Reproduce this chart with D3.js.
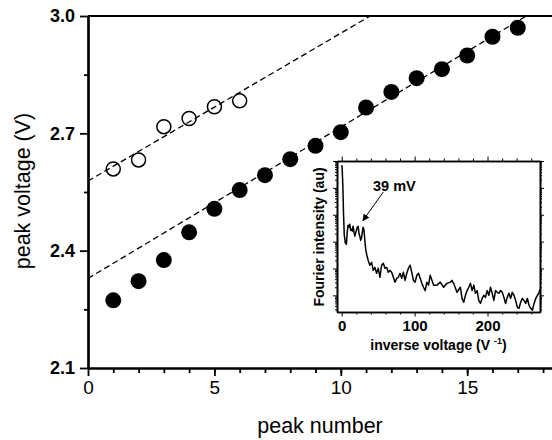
<!DOCTYPE html>
<html lang="en">
<head>
<meta charset="UTF-8">
<title>peak voltage</title>
<style type="text/css">
  * {
    margin: 0;
    padding: 0;
  }
  body { background: #fff; }
  svg { display: block; font-family: 'Liberation Sans', Arial, sans-serif; }
</style>
</head>
<body>
<div id="chart-area"></div>
<script src="https://cdn.jsdelivr.net/npm/d3@7"></script>
<script type="text/javascript">

  // main plot data
  const peakNumber = [1, 2, 3, 4, 5, 6, 7, 8, 9, 10, 11, 12, 13, 14, 15, 16, 17]
  const peakVoltage = [2.273, 2.322, 2.376, 2.447, 2.507, 2.555, 2.593, 2.634, 2.668, 2.703,
    2.766, 2.806, 2.841, 2.864, 2.899, 2.947, 2.970]
  const openPeak = [1, 2, 3, 4, 5, 6]
  const openVoltage = [2.609, 2.632, 2.717, 2.738, 2.768, 2.783]
  // linear fits: [upper (open), lower (filled)]
  const fitIntercept = [2.578, 2.329]
  const fitSlope = [0.0378, 0.0387]
  const xTicks = [0, 5, 10, 15]
  const yTicks = [2.1, 2.4, 2.7, 3.0]

  // inset data
  const invVoltage = [0, 0.5, 1.5, 2.5, 3.5, 5, 6.4, 7.5, 8.7, 10, 11, 12.2, 13.3, 14.5, 15.6, 16.8,
    17.9, 19, 20.2, 21.3, 22.5, 23.6, 24.8, 26, 27.1, 28.2, 29.4, 30.5, 31.7, 33, 34.5, 36.3,
    38.6, 41, 43.2, 45.5, 47.8, 50.1, 52.4, 54.7, 57, 59.3, 61.6, 63.9, 66.2, 68.5, 70.8, 73.1,
    75.4, 77.7, 80, 82.3, 84.6, 86.9, 89.2, 91.5, 93.8, 96.1, 98.4, 100.7, 103, 105.3, 107.6,
    109.9, 112.2, 114.5, 116.8, 119.1, 121.4, 126, 130.6, 135.2, 139.8, 144.4, 149, 151.2, 153.5,
    158.1, 162.8, 165, 167.4, 169.7, 172, 174.3, 176.6, 178.9, 181.2, 183.4, 185.7, 188, 190.3,
    192.6, 194.9, 197.2, 199.5, 201.8, 204.1, 206.4, 208.7, 211, 213.3, 215.6, 217.9, 220.2,
    222.5, 224.8, 227.1, 229.4, 231.7, 234, 236.3, 238.6, 240.9, 243.2, 245.5, 247.8, 250.1,
    252.4, 254.7, 257, 259.3, 261.6, 263.9, 266.2, 268.5, 270.8, 272]
  const fourierIntensity = [70800, 60000, 12600, 970, 173, 87, 80, 224, 410, 345, 445, 267, 290,
    245, 375, 224, 159, 206, 267, 345, 375, 206, 159, 112, 134, 224, 345, 267, 112, 48, 31, 20,
    13.2, 17, 8.5, 11, 6.6, 10.2, 4.7, 13.2, 15.6, 10.2, 11, 7.2, 8.5, 7.2, 4.7, 3.1,
    4.3, 4.7, 6.6, 4.3, 7.2, 3.6, 6.6, 10.2, 13.2, 7.2, 3.6, 3.1, 5.6, 6.6, 4.3,
    2.8, 2.0, 1.5, 3.1, 2.4, 5.6, 2.4, 2.4, 3.1, 2.0, 2.8, 3.1, 3.6, 2.8,
    1.3, 2.0, 0.77, 0.55, 1.0, 1.5, 2.0, 2.8, 1.5, 2.4, 1.19, 1.5, 0.65, 0.50,
    0.77, 1.0, 0.84, 1.5, 1.0, 2.0, 1.19, 0.65, 1.5, 1.3, 1.19, 1.5, 1.3,
    0.84, 0.50, 0.84, 1.19, 0.77, 1.3, 1.0, 0.65, 0.36, 0.33, 0.55, 0.77, 0.65,
    0.50, 0.77, 0.42, 0.33, 0.28, 0.50, 0.77, 1.0, 1.3, 1.7]
  const insetXTicks = [0, 100, 200]
  const peakLabel = '39 mV'

  const W = 552
  const H = 440

  const svg = d3.select('#chart-area').append('svg')
      .attr('width', W)
      .attr('height', H)

  const x = d3.scaleLinear().domain([0, 18.5]).range([88, 88 + 18.5 * 25.28])
  const y = d3.scaleLinear().domain([2.1, 3.0]).range([368, 16])

  svg.append('clipPath').attr('id', 'plot-clip')
    .append('rect')
      .attr('x', x(0)).attr('y', y(3.0))
      .attr('width', W - x(0)).attr('height', y(2.1) - y(3.0))

  // fit lines
  const lineG = svg.append('g').attr('clip-path', 'url(#plot-clip)')
  fitIntercept.forEach((b, i) => {
    lineG.append('line')
        .attr('x1', x(0)).attr('y1', y(b))
        .attr('x2', x(18.5)).attr('y2', y(b + fitSlope[i] * 18.5))
        .attr('stroke', '#000')
        .attr('stroke-width', 1.3)
        .attr('stroke-dasharray', '6,3.5')
  })

  // points
  svg.append('g').selectAll('circle')
      .data(openPeak)
      .enter()
      .append('circle')
      .attr('cx', (d) => x(d))
      .attr('cy', (d, i) => y(openVoltage[i]))
      .attr('r', 7)
      .attr('fill', 'none')
      .attr('stroke', '#000')
      .attr('stroke-width', 1.5)

  svg.append('g').selectAll('circle')
      .data(peakNumber)
      .enter()
      .append('circle')
      .attr('cx', (d) => x(d))
      .attr('cy', (d, i) => y(peakVoltage[i]))
      .attr('r', 8)
      .attr('fill', '#000')

  // axes
  const yAxis = svg.append('g').attr('transform', `translate(${x(0)},0)`)
  yAxis.call(d3.axisLeft(y).tickValues([2.25, 2.55, 2.85]).tickSize(4).tickFormat('').tickSizeOuter(0))
  yAxis.call((g) => g.append('g').call(d3.axisLeft(y).tickValues(yTicks).tickSize(8).tickPadding(5)
      .tickFormat(d3.format('.1f')).tickSizeOuter(0)))
  yAxis.selectAll('path').attr('stroke-width', 2.2)
  yAxis.selectAll('line').attr('stroke-width', 1.8)
  yAxis.selectAll('text')
      .attr('font-size', 18)
      .attr('font-weight', 'bold')
      .attr('font-family', "'Liberation Sans', Arial, sans-serif")

  const xAxis = svg.append('g').attr('transform', `translate(0,${y(2.1)})`)
  xAxis.call(d3.axisBottom(x).tickValues(d3.range(1, 19)).tickSize(5).tickFormat('').tickSizeOuter(0))
  xAxis.call((g) => g.append('g').call(d3.axisBottom(x).tickValues(xTicks).tickSize(8).tickPadding(5)
      .tickSizeOuter(0)))
  xAxis.selectAll('path').attr('stroke-width', 2.2)
  xAxis.selectAll('line').attr('stroke-width', 1.8)
  xAxis.selectAll('text')
      .attr('font-size', 19)
      .attr('font-family', "'Liberation Sans', Arial, sans-serif")

  // top frame line
  svg.append('line')
      .attr('x1', x(0)).attr('y1', y(3.0))
      .attr('x2', W).attr('y2', y(3.0))
      .attr('stroke', '#000')
      .attr('stroke-width', 2.2)

  svg.append('text')
      .attr('x', 320)
      .attr('y', 433)
      .attr('text-anchor', 'middle')
      .attr('font-size', 21.5)
      .text('peak number')

  svg.append('text')
      .attr('transform', 'translate(30,191) rotate(-90)')
      .attr('text-anchor', 'middle')
      .attr('font-size', 21.5)
      .text('peak voltage (V)')

  // ---- inset ----
  const ix = d3.scaleLinear().domain([-6.5, 272]).range([337, 540])
  const iy = d3.scaleLog().domain([0.24, 1e5]).range([312, 161])

  svg.append('rect')
      .attr('x', 337).attr('y', 161)
      .attr('width', 540 - 337).attr('height', 312 - 161)
      .attr('fill', '#fff')

  svg.append('clipPath').attr('id', 'inset-clip')
    .append('rect')
      .attr('x', 337).attr('y', 161)
      .attr('width', 540 - 337).attr('height', 312 - 161)

  const curve = d3.line()
      .x((d, i) => ix(invVoltage[i]))
      .y((d) => iy(d))

  svg.append('path')
      .attr('clip-path', 'url(#inset-clip)')
      .attr('d', curve(fourierIntensity))
      .attr('fill', 'none')
      .attr('stroke', '#000')
      .attr('stroke-width', 1.5)
      .attr('stroke-linejoin', 'round')

  const minorX = d3.range(0, 272, 20).filter((v) => v % 100 !== 0)
  const majorY = [1, 10, 100, 1000, 10000, 100000]
  const minorY = []
  ;[0.1, 1, 10, 100, 1000, 10000].forEach((dec) => {
    d3.range(2, 10).forEach((m) => {
      const v = dec * m
      if (v >= 0.24 && v <= 1e5) minorY.push(v)
    })
  })

  const insetAxes = svg.append('g')
  const addAxis = (axisFn, scale, pos, values, size, labels) => {
    const a = axisFn(scale).tickValues(values).tickSize(size).tickSizeOuter(0)
    if (!labels) a.tickFormat('')
    return insetAxes.append('g').attr('transform', pos).call(a)
  }
  addAxis(d3.axisBottom, ix, 'translate(0,312)', minorX, 2.5, false)
  const ixLab = addAxis(d3.axisBottom, ix, 'translate(0,312)', insetXTicks, 4.5, true)
  ixLab.call((g) => g.selectAll('.tick text').attr('y', 8))
  addAxis(d3.axisTop, ix, 'translate(0,161)', minorX, 2.5, false)
  addAxis(d3.axisTop, ix, 'translate(0,161)', insetXTicks, 4.5, false)
  addAxis(d3.axisLeft, iy, 'translate(337,0)', minorY, 2, false)
  addAxis(d3.axisLeft, iy, 'translate(337,0)', majorY, 4, false)
  addAxis(d3.axisRight, iy, 'translate(540,0)', minorY, 2, false)
  addAxis(d3.axisRight, iy, 'translate(540,0)', majorY, 4, false)
  insetAxes.selectAll('path').attr('stroke-width', 1.6)
  insetAxes.selectAll('line').attr('stroke-width', 1)
  insetAxes.selectAll('text')
      .attr('font-size', 15)
      .attr('font-weight', 'bold')
      .attr('font-family', "'Liberation Sans', Arial, sans-serif")

  const invTitle = svg.append('text')
      .attr('x', (337 + 540) / 2)
      .attr('y', 350)
      .attr('text-anchor', 'middle')
      .attr('font-size', 14)
      .attr('font-weight', 'bold')
  invTitle.append('tspan').text('inverse voltage (V ')
  invTitle.append('tspan').attr('font-size', 9).attr('dy', -6).text('-1')
  invTitle.append('tspan').attr('dy', 6).text(')')

  svg.append('text')
      .attr('transform', 'translate(324,237) rotate(-90)')
      .attr('text-anchor', 'middle')
      .attr('font-size', 14)
      .attr('font-weight', 'bold')
      .text('Fourier intensity (au)')

  // annotation
  svg.append('defs').append('marker')
      .attr('id', 'arrow')
      .attr('viewBox', '0 0 10 10')
      .attr('refX', 9).attr('refY', 5)
      .attr('markerWidth', 7).attr('markerHeight', 7)
      .attr('markerUnits', 'userSpaceOnUse')
      .attr('orient', 'auto')
    .append('path')
      .attr('d', 'M0,0L10,5L0,10z')
      .attr('fill', '#000')

  svg.append('line')
      .attr('x1', ix(57)).attr('y1', iy(7000))
      .attr('x2', ix(29)).attr('y2', iy(600))
      .attr('stroke', '#000')
      .attr('stroke-width', 1)
      .attr('marker-end', 'url(#arrow)')

  svg.append('text')
      .attr('x', 373)
      .attr('y', 191)
      .attr('font-size', 14.5)
      .attr('font-weight', 'bold')
      .text(peakLabel)

</script>
</body>
</html>
